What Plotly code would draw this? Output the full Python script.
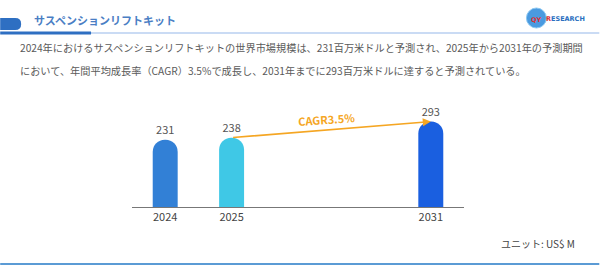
import re
import plotly.graph_objects as go

years = ["2024", "2025", "2031"]
values = [231, 238, 293]
axis_categories = ["2024", "2025", " ", "  ", "2031"]
bar_colors = ["#3280d6", "#3fc8e6", "#1a5fe0"]
cagr_label = "CAGR3.5%"
title_text = "サスペンションリフトキット"
desc_line1 = "2024年におけるサスペンションリフトキットの世界市場規模は、231百万米ドルと予測され、2025年から2031年の予測期間"
desc_line2 = "において、年間平均成長率（CAGR）3.5%で成長し、2031年までに293百万米ドルに達すると予測されている。"
unit_text = "ユニット: US$ M"

FONT = "Noto Sans CJK JP"
W, H = 600, 272

fig = go.Figure()
fig.add_trace(go.Bar(
    x=years, y=values,
    marker=dict(color=bar_colors, line=dict(width=0)),
    width=0.376,
    text=[str(v) for v in values],
    textposition="outside",
    textfont=dict(family=FONT, size=11, color="#555555"),
    cliponaxis=False,
    hoverinfo="skip",
))

i_from = axis_categories.index(years[1])
i_to = axis_categories.index(years[2])

annotations = [
    dict(x=i_to, y=values[2], ax=i_from, ay=values[1], xref="x", yref="y",
         axref="x", ayref="y", showarrow=True, arrowhead=2, arrowsize=1,
         arrowwidth=1.6, arrowcolor="#f5a623", text="", standoff=0, startstandoff=0),
    dict(x=(i_from + i_to) / 2, y=(values[1] + values[2]) / 2, xref="x", yref="y",
         text="<b>" + cagr_label + "</b>", showarrow=False, textangle=-4,
         yshift=11, xshift=-5, font=dict(family=FONT, size=11, color="#f5a623")),
    dict(x=32, y=H - 20, xref="paper", yref="paper", text="<b>" + title_text + "</b>",
         showarrow=False, xanchor="left", yanchor="middle",
         font=dict(family=FONT, size=11, color="#4a7ec4")),
    dict(x=18, y=H - 47, xref="paper", yref="paper", text=desc_line1, showarrow=False,
         xanchor="left", yanchor="middle", font=dict(family=FONT, size=10.2, color="#5a5a5a")),
    dict(x=18, y=H - 70, xref="paper", yref="paper", text=desc_line2, showarrow=False,
         xanchor="left", yanchor="middle", font=dict(family=FONT, size=10.2, color="#5a5a5a")),
    dict(x=578, y=H - 243, xref="paper", yref="paper", text=unit_text, showarrow=False,
         xanchor="right", yanchor="middle", font=dict(family=FONT, size=10, color="#444444")),
    dict(x=537, y=H - 20, xref="paper", yref="paper", text="<b>QY</b>", showarrow=False,
         xanchor="center", yanchor="middle", font=dict(family="DejaVu Sans", size=6.5, color="#e03030")),
    dict(x=545, y=H - 19, xref="paper", yref="paper",
         text="<b><span style='color:#e03030'>R</span>ESEARCH</b>", showarrow=False,
         xanchor="left", yanchor="middle", font=dict(family="DejaVu Sans", size=6.5, color="#2a6fc0")),
]

shapes = [
    dict(type="path", xref="paper", yref="paper",
         path=f"M 0 {H-18} L 15 {H-18} Q 21 {H-18} 21 {H-24} Q 21 {H-30} 15 {H-30} L 0 {H-30} Z",
         fillcolor="#2e6fc2", line=dict(width=0)),
    dict(type="line", xref="paper", yref="paper", x0=91, x1=600, y0=H-33, y1=H-33,
         line=dict(color="#b8cff0", width=1.5)),
    dict(type="line", xref="paper", yref="paper", x0=0, x1=91, y0=H-33, y1=H-33,
         line=dict(color="#2e6fc2", width=3)),
    dict(type="circle", xref="paper", yref="paper", x0=527, x1=547, y0=H-28, y1=H-8,
         fillcolor="#4a9ae0", line=dict(color="#8cc8f2", width=1), layer="below"),
    dict(type="line", xref="paper", yref="paper", x0=0, x1=600, y0=H-264, y1=H-264,
         line=dict(color="#5b9bd5", width=2)),
]

pl, pr, pt, pb = 132, 600 - 464.5, 105, 65
pw, ph = W - pl - pr, H - pt - pb

fig.update_layout(
    width=W, height=H,
    margin=dict(l=pl, r=pr, t=pt, b=pb, autoexpand=False),
    paper_bgcolor="white", plot_bgcolor="white",
    showlegend=False,
    barcornerradius="50%",
    annotations=annotations,
    shapes=shapes,
    xaxis=dict(type="category", categoryorder="array", categoryarray=axis_categories,
               range=[-0.5, len(axis_categories) - 0.5], showgrid=False,
               showline=True, linecolor="#777777", linewidth=1, ticks="",
               tickfont=dict(family=FONT, size=11, color="#444444")),
    yaxis=dict(range=[0, 350], visible=False, showgrid=False, zeroline=False),
)

for a in fig.layout.annotations:
    if a.xref == "paper":
        a.x = (a.x - pl) / pw
        a.y = (a.y - pb) / ph
for s in fig.layout.shapes:
    if s.xref == "paper":
        if s.type == "path":
            out = []
            k = 0
            for t in s.path.split():
                try:
                    v = float(t)
                    out.append(f"{(v - pl) / pw:.5f}" if k % 2 == 0 else f"{(v - pb) / ph:.5f}")
                    k += 1
                except ValueError:
                    out.append(t)
            s.path = " ".join(out)
        else:
            s.x0 = (s.x0 - pl) / pw
            s.x1 = (s.x1 - pl) / pw
            s.y0 = (s.y0 - pb) / ph
            s.y1 = (s.y1 - pb) / ph

fig.write_html("out.html", config={"displayModeBar": False})
